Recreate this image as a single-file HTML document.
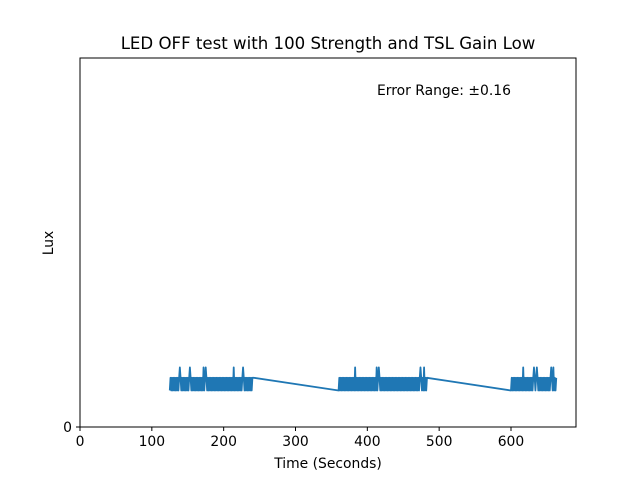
<!DOCTYPE html>
<html><head><meta charset="utf-8"><style>
body{margin:0;background:#fff}
svg{display:block;font-family:"DejaVu Sans","Liberation Sans",sans-serif}
</style></head><body>
<svg id="chart" width="640" height="480">
<rect width="640" height="480" fill="#fff"/>
<text x="328" y="49" text-anchor="middle" font-size="16.6" fill="#000">LED OFF test with 100 Strength and TSL Gain Low</text>
<text x="377" y="95" font-size="13.9" fill="#000">Error Range: ±0.16</text>
<g id="xt"></g><g id="yt"></g>
<g id="series"></g>
<rect x="80" y="58" width="496" height="369" fill="none" stroke="#000" stroke-width="1"/>
<text x="328" y="468" text-anchor="middle" font-size="13.9">Time (Seconds)</text>
<text transform="translate(53,243) rotate(-90)" text-anchor="middle" font-size="13.9">Lux</text>
</svg>
<script>
const xTicks=[0,100,200,300,400,500,600];
const yTicks=[0];
const levels=[0.95,1.28,1.55];
const block1Start=125, block2Start=360, block3Start=600, stepSec=1;
const block1Codes="0101010101"+"0101210101"+"0101010121"+"0101010101"+"0101010201"+"2101010101"+"0101010101"+"0101010101"+"0101010102"+"0101010101"+"0121010101"+"01010111";
const block2Codes="0101010101"+"0101010101"+"0102010101"+"0101010101"+"0101010101"+"0102012101"+"0101010101"+"0101010101"+"0101010101"+"0101010101"+"0101010101"+"0101210102"+"0101";
const block3Codes="0101010101"+"0101010201"+"0101010101"+"0121012101"+"0101010101"+"0101012102"+"0101";
const xMin=0,xMax=690.5,yMin=0,yMax=9.6;
const X=v=>80+(v-xMin)/(xMax-xMin)*496;
const Y=v=>427-(v-yMin)/(yMax-yMin)*369;
const NS="http://www.w3.org/2000/svg";
const xt=document.getElementById('xt');
xTicks.forEach(t=>{
 const l=document.createElementNS(NS,'line');
 l.setAttribute('x1',X(t));l.setAttribute('x2',X(t));l.setAttribute('y1',427);l.setAttribute('y2',431);l.setAttribute('stroke','#000');
 
 
 xt.appendChild(l);
 const s=document.createElementNS(NS,'text');
 s.setAttribute('x',X(t));s.setAttribute('y',446);s.setAttribute('text-anchor','middle');s.setAttribute('font-size','13.9');s.textContent=t;
 
 
 xt.appendChild(s);
});
const yt=document.getElementById('yt');
yTicks.forEach(t=>{
 const l=document.createElementNS(NS,'line');
 l.setAttribute('x1',76);l.setAttribute('x2',80);l.setAttribute('y1',Y(t));l.setAttribute('y2',Y(t));l.setAttribute('stroke','#000');
 
 
 yt.appendChild(l);
 const s=document.createElementNS(NS,'text');
 s.setAttribute('x',72);s.setAttribute('y',Y(t)+5);s.setAttribute('text-anchor','end');s.setAttribute('font-size','13.9');s.textContent=t;
 
 
 yt.appendChild(s);
});
const pts=[];
[[block1Start,block1Codes],[block2Start,block2Codes],[block3Start,block3Codes]].forEach(([st,codes])=>{
 codes.split('').forEach((c,i)=>pts.push([X(st+i*stepSec),Y(levels[+c])]));
});
const p=document.createElementNS(NS,'path');
p.setAttribute('d','M'+pts.map(q=>q[0].toFixed(2)+','+q[1].toFixed(2)).join('L'));
p.setAttribute('fill','none');p.setAttribute('stroke','#1f77b4');p.setAttribute('stroke-width','1.8');p.setAttribute('stroke-linejoin','round');


document.getElementById('series').appendChild(p);
</script>
</body></html>
